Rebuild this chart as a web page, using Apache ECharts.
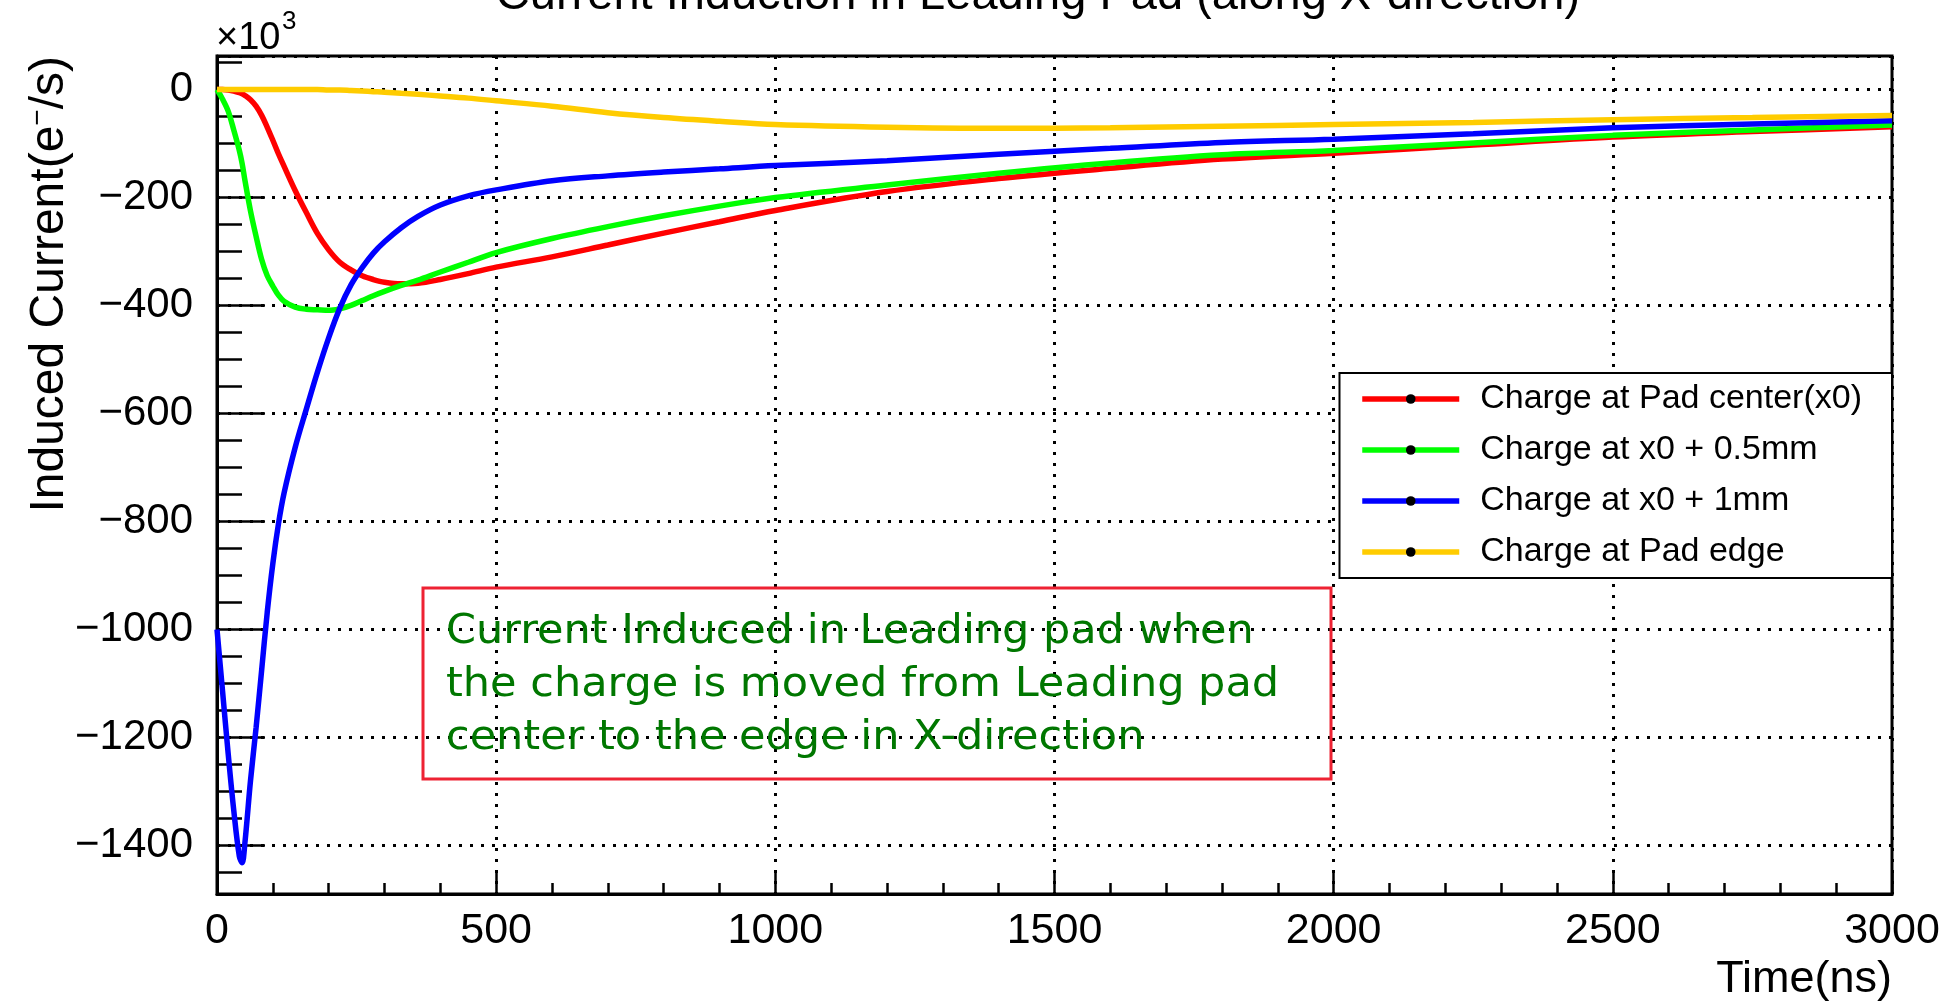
<!DOCTYPE html>
<html>
<head>
<meta charset="utf-8">
<title>Current Induction in Leading Pad</title>
<script src="https://cdn.jsdelivr.net/npm/echarts@6/dist/echarts.min.js"></script>
<style>
  html, body { margin: 0; padding: 0; background: #fff; }
  #chart { width: 1943px; height: 1004px; }
</style>
</head>
<body>
<div id="chart"></div>
<script>
// time samples in ns, shared by every curve
const timeNs = [0, 10, 20, 30, 40, 45, 50, 60, 70, 80, 90, 100, 110, 120, 140, 160, 180, 200,
  220, 240, 260, 280, 300, 330, 360, 400, 450, 500, 600, 700, 800, 900, 1000, 1200, 1400,
  1600, 1800, 2000, 2250, 2500, 2750, 3000];

// induced current, x10^3 e-/s
const padCenter = [0, 0, -1, -3, -6, -8, -11, -19, -31, -48, -70, -94, -119, -142, -187, -228,
  -267, -297, -320, -334, -345, -352, -357, -360, -359, -352, -341, -329, -310, -288, -266,
  -245, -224, -189, -165, -146, -129, -118, -103, -88, -78, -69];
const plus05mm = [0, -18, -40, -75, -113, -137, -168, -225, -272, -315, -345, -364, -381, -392,
  -403, -407, -408, -409, -406, -400, -391, -382, -374, -363, -353, -338, -320, -302, -276,
  -254, -234, -216, -200, -177, -155, -136, -121, -113, -99, -85, -75, -66];
const plus1mm = [-1000, -1115, -1230, -1335, -1420, -1432, -1395, -1280, -1182, -1075, -968,
  -878, -805, -748, -663, -592, -523, -460, -405, -362, -330, -303, -282, -256, -235, -214,
  -197, -186, -169, -160, -153, -147, -141, -132, -120, -109, -98, -92, -82, -71, -64, -58];
const padEdge = [0, 0, 0, 0, 0, 0, 0, 0, 0, 0, 0, 0, 0, 0, 0, 0, 0, -1, -1, -2, -3, -4, -5, -7,
  -9, -12, -16, -21, -31, -43, -52, -59, -65, -70, -72, -71, -68, -65, -61, -56, -52, -48];

const seriesNames = ['Charge at Pad center(x0)', 'Charge at x0 + 0.5mm', 'Charge at x0 + 1mm', 'Charge at Pad edge'];
const seriesColors = ['#ff0000', '#00ff00', '#0000ff', '#ffcc00'];
const seriesValues = [padCenter, plus05mm, plus1mm, padEdge];

const xRange = [0, 3000];
const yRange = [-1490, 62];

const FONT = '"Liberation Sans", Arial, sans-serif';
const LINE_W = 5.5;

function pairs(values) {
  return timeNs.map((t, i) => [t, values[i]]);
}

const chart = echarts.init(document.getElementById('chart'));

chart.setOption({
  animation: false,
  backgroundColor: '#fff',
  grid: {
    left: 217, right: 51, top: 56, bottom: 110,
    containLabel: false,
    outerBoundsMode: 'none',
    show: true,
    borderColor: '#000',
    borderWidth: 3,
  },
  legend: {
    orient: 'vertical',
    right: 51,
    top: 373,
    padding: [9, 30, 9, 20],
    itemGap: 17,
    itemWidth: 97,
    itemHeight: 12,
    backgroundColor: '#fff',
    borderColor: '#000',
    borderWidth: 2,
    itemStyle: { borderWidth: 0 },
    lineStyle: { width: LINE_W },
    textStyle: { fontFamily: FONT, fontSize: 34, color: '#000', padding: [0, 0, 0, 16] },
    data: seriesNames,
  },
  xAxis: {
    type: 'value',
    min: xRange[0],
    max: xRange[1],
    interval: 500,
    axisLine: { show: true, onZero: false, lineStyle: { color: '#000', width: 3 } },
    axisTick: { show: true, inside: true, length: 24, lineStyle: { color: '#000', width: 2.5 } },
    minorTick: { show: true, splitNumber: 5, length: 11, lineStyle: { color: '#000', width: 2.5 } },
    axisLabel: { fontFamily: FONT, fontSize: 43, color: '#000', margin: 16, formatter: v => String(v) },
    splitLine: { show: true, lineStyle: { color: '#000', width: 3, type: [3, 8] } },
  },
  yAxis: {
    type: 'value',
    min: yRange[0],
    max: yRange[1],
    splitNumber: 8,
    axisLine: { show: true, onZero: false, lineStyle: { color: '#000', width: 3 } },
    axisTick: { show: true, inside: true, length: 48, lineStyle: { color: '#000', width: 2.5 } },
    minorTick: { show: true, splitNumber: 4, length: 25, lineStyle: { color: '#000', width: 2.5 } },
    axisLabel: {
      fontFamily: FONT, fontSize: 42, color: '#000', margin: 24,
      showMinLabel: false, showMaxLabel: false,
      formatter: v => (v < 0 ? '\u2212' + Math.abs(v) : String(v)),
    },
    splitLine: { show: true, lineStyle: { color: '#000', width: 3, type: [3, 8] } },
  },
  series: seriesNames.map((name, i) => ({
    name,
    type: 'line',
    data: pairs(seriesValues[i]),
    smooth: 0.35,
    symbol: 'circle',
    showSymbol: false,
    itemStyle: { color: '#000' },
    lineStyle: { color: seriesColors[i], width: LINE_W },
    z: 3,
  })),
  graphic: [
    {
      type: 'text', x: 1038, y: -4,
      style: {
        text: 'Current Induction in Leading Pad (along X-direction)',
        font: '47px ' + FONT, fill: '#000', align: 'center', verticalAlign: 'middle',
      },
    },
    {
      type: 'text', x: 216, y: 39,
      style: { text: '\u00d710', font: '38px ' + FONT, fill: '#000', align: 'left', verticalAlign: 'middle' },
    },
    {
      type: 'text', x: 282, y: 22,
      style: { text: '3', font: '26px ' + FONT, fill: '#000', align: 'left', verticalAlign: 'middle' },
    },
    {
      type: 'text', x: 50, y: 56, rotation: Math.PI / 2,
      style: {
        text: 'Induced Current(e{sup|\u2212}/s)',
        font: '48px ' + FONT, fill: '#000', align: 'right', verticalAlign: 'middle',
        rich: { sup: { font: '28px ' + FONT, fill: '#000', padding: [0, 0, 24, 0] } },
      },
    },
    {
      type: 'text', x: 1892, y: 980,
      style: {
        text: 'Time(ns)',
        font: '45px ' + FONT, fill: '#000', align: 'right', verticalAlign: 'middle',
      },
    },
    {
      type: 'rect', z: 10,
      shape: { x: 423, y: 588, width: 908, height: 191 },
      style: { fill: 'none', stroke: '#ee2233', lineWidth: 3 },
    },
    {
      // the note is set in a wider face in the original, so stretch it a little
      type: 'text', x: 446, y: 606, z: 10, scaleX: 1.075,
      style: {
        text: 'Current Induced in Leading pad when\nthe charge is moved from Leading pad\ncenter to the edge in X-direction',
        font: '40px "DejaVu Sans", "Noto Sans", sans-serif', fill: '#007700',
        lineHeight: 53, align: 'left', verticalAlign: 'top',
      },
    },
  ],
});
</script>
</body>
</html>
